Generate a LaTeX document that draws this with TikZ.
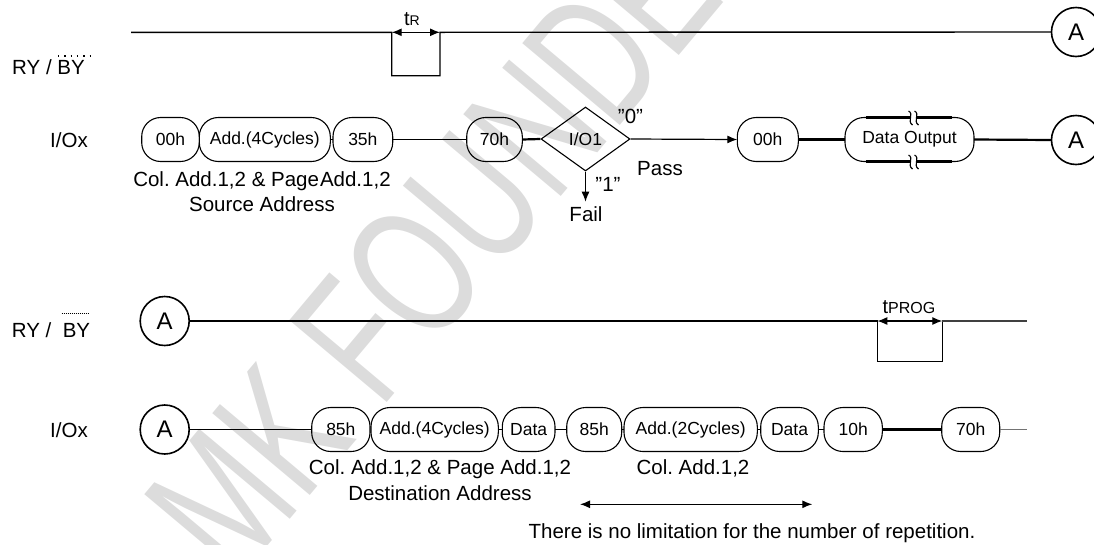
\documentclass[tikz,border=0pt]{standalone}
\usepackage{fontspec}
\setmainfont{Liberation Sans}
\usetikzlibrary{arrows.meta,shapes.geometric,calc}
\definecolor{wmgray}{HTML}{DCDCDC}
\begin{document}
\frenchspacing
\begin{tikzpicture}[x=1pt,y=-1pt,
  >={Latex[length=10pt,width=8pt]},
  sig/.style={line width=1.4pt},
  box/.style={draw, line width=1.1pt, rounded corners=19pt, minimum height=44pt,
    inner xsep=0pt, inner ysep=0pt, outer sep=0pt, anchor=west,
    font=\fontsize{17.5}{20}\selectfont},
  circ/.style={draw, circle, line width=1.6pt, minimum size=49pt, inner sep=0pt,
    outer sep=0pt, font=\fontsize{24}{28}\selectfont},
  lbl/.style={font=\fontsize{20.5}{24}\selectfont, inner sep=0pt, anchor=base},
  thinline/.style={line width=1.2pt},
  boldline/.style={line width=2.2pt},
  squig/.style={line width=1.1pt}
]
\useasboundingbox (0,0) rectangle (1094,544);

% watermark
\node[rotate=50, text=wmgray, font=\fontsize{185}{185}\selectfont, inner sep=0pt]
  (wm) at (462,215) {\scalebox{0.69}[1]{MK FOUNDER}};

% ---------- top RY/BY ----------
\node[lbl] (ry1) at (48.5,74) {RY / BY};
\draw[line width=1.3pt, dash pattern=on 1.3pt off 5pt] (58,56) -- (90,56);
\node[circ] (A1) at (1076,32) {A};
\coordinate (r1s) at (131,32.3);
\coordinate (p1a) at (391.7,32.3);
\coordinate (p1b) at (440,32.3);
\draw[sig] (r1s) -- (p1a) -- (391.7,75.7) -- (440,75.7) -- (p1b) -- (A1.west);
\draw[thinline,<->] (p1a) -- (p1b);
\node[lbl] (tR) at (412,25) {\fontsize{20}{22}\selectfont t\fontsize{14}{16}\selectfont R};

% ---------- top I/Ox ----------
\node[lbl] (io1) at (69,147) {I/Ox};
\node[box, minimum width=57.6pt] (b1) at (141.7,139.5) {00h};
\node[box, minimum width=131pt] (b2) at (199.3,139.5) {Add.(4Cycles)\hspace{20pt}};
\node[box, minimum width=59.7pt] (b3) at (333,139.5) {35h};
\node[box, minimum width=55.6pt] (b4) at (466.7,139.5) {70h};
\node[draw, diamond, line width=1.1pt, minimum width=89pt, minimum height=64pt,
  inner sep=0pt, aspect=1.4, font=\fontsize{17.5}{20}\selectfont] (dia) at (585.5,139) {I/O1};
\node[box, minimum width=61pt] (b5) at (737.3,139.5) {00h};
\node[box, minimum width=129pt] (b6) at (845,139.5) {Data Output};
\node[circ] (A2) at (1076,140) {A};

\draw[thinline] (b2.east) -- (b3.west);
\draw[thinline] (b3.east) -- (b4.west);
\draw[boldline] (b4.east) -- (dia.west);
\draw[thinline,->] (dia.east) -- (b5.west);
\coordinate (failtip) at (585.5,201.7);
\draw[thinline,->] (dia.south) -- (failtip);
\draw[boldline] (b5.east) -- (b6.west);
\draw[boldline] (b6.east) -- (A2.west);

% break marks on Data Output
\draw[boldline] (866,117.5) -- (952,117.5);
\draw[boldline] (866,161.5) -- (952,161.5);
\fill[white] (911,115) rectangle (917,120);
\fill[white] (911,159) rectangle (917,164);
\foreach \xx in {910.5,916.5}{
  \draw[squig] (\xx-2,111) .. controls (\xx+4,114) and (\xx-4,121) .. (\xx+2,125);
  \draw[squig] (\xx-2,155) .. controls (\xx+4,158) and (\xx-4,165) .. (\xx+2,169);
}

\node[lbl] (q0) at (630.5,123.5) {"0”};
\node[lbl] (pass) at (660,175) {Pass};
\node[lbl] (q1) at (608,191.7) {"1”};
\node[lbl] (fail) at (586,221.7) {Fail};
\node[lbl] (src1) at (262,186) {Col. Add.1,2 \& Page\hspace{1pt}Add.1,2};
\node[lbl] (src2) at (262,211.7) {Source Address};

% ---------- bottom RY/BY ----------
\node[lbl] (ry2) at (51,337) {RY /\ \ BY};
\draw[line width=0.8pt, dash pattern=on 1.2pt off 0.8pt] (61.7,313.3) -- (89.3,313.3);
\node[circ] (A3) at (164.7,321) {A};
\coordinate (p2a) at (877.3,321);
\coordinate (p2b) at (942.3,321);
\coordinate (r2e) at (1026.7,321);
\draw[sig] (A3.east) -- (p2a) -- (877.3,361.7) -- (942.3,361.7) -- (p2b);
\draw[sig, black!75] (p2b) -- (r2e);
\draw[thinline,<->] (p2a) -- (p2b);
\node[lbl] (tP) at (909,313) {\fontsize{20}{22}\selectfont t\fontsize{16}{18}\selectfont PROG};

% ---------- bottom I/Ox ----------
\node[lbl] (io2) at (69,437) {I/Ox};
\node[circ] (A4) at (164.7,429.5) {A};
\node[box, minimum width=58.3pt] (c1) at (311.7,429.5) {85h};
\node[box, minimum width=127.3pt] (c2) at (371,429.5) {Add.(4Cycles)};
\node[box, minimum width=52.7pt] (c3) at (502.3,429.5) {Data};
\node[box, minimum width=55pt] (c4) at (566.7,429.5) {85h};
\node[box, minimum width=133.3pt] (c5) at (624,429.5) {Add.(2Cycles)};
\node[box, minimum width=57.6pt] (c6) at (760.7,429.5) {Data};
\node[box, minimum width=58.3pt] (c7) at (824,429.5) {10h};
\node[box, minimum width=58pt] (c8) at (941.7,429.5) {70h};
\coordinate (io2e) at (1026.7,429.5);

\draw[thinline] (A4.east) -- (c1.west);
\draw[thinline] (c2.east) -- (c3.west);
\draw[thinline] (c3.east) -- (c4.west);
\draw[thinline] (c4.east) -- (c5.west);
\draw[thinline] (c5.east) -- (c6.west);
\draw[thinline] (c6.east) -- (c7.west);
\draw[boldline] (c7.east) -- (c8.west);
\draw[sig, black!55] (c8.east) -- (io2e);

\node[lbl] (dst1) at (440,474) {Col. Add.1,2 \& Page Add.1,2};
\node[lbl] (dst2) at (440,500.5) {Destination Address};
\node[lbl] (col2) at (693,474) {Col. Add.1,2};
\coordinate (repL) at (580,504.3);
\coordinate (repR) at (812.3,504.3);
\draw[thinline,<->] (repL) -- (repR);
\node[lbl] (rep) at (752,538) {There is no limitation for the number of repetition.};
\end{tikzpicture}
\end{document}
